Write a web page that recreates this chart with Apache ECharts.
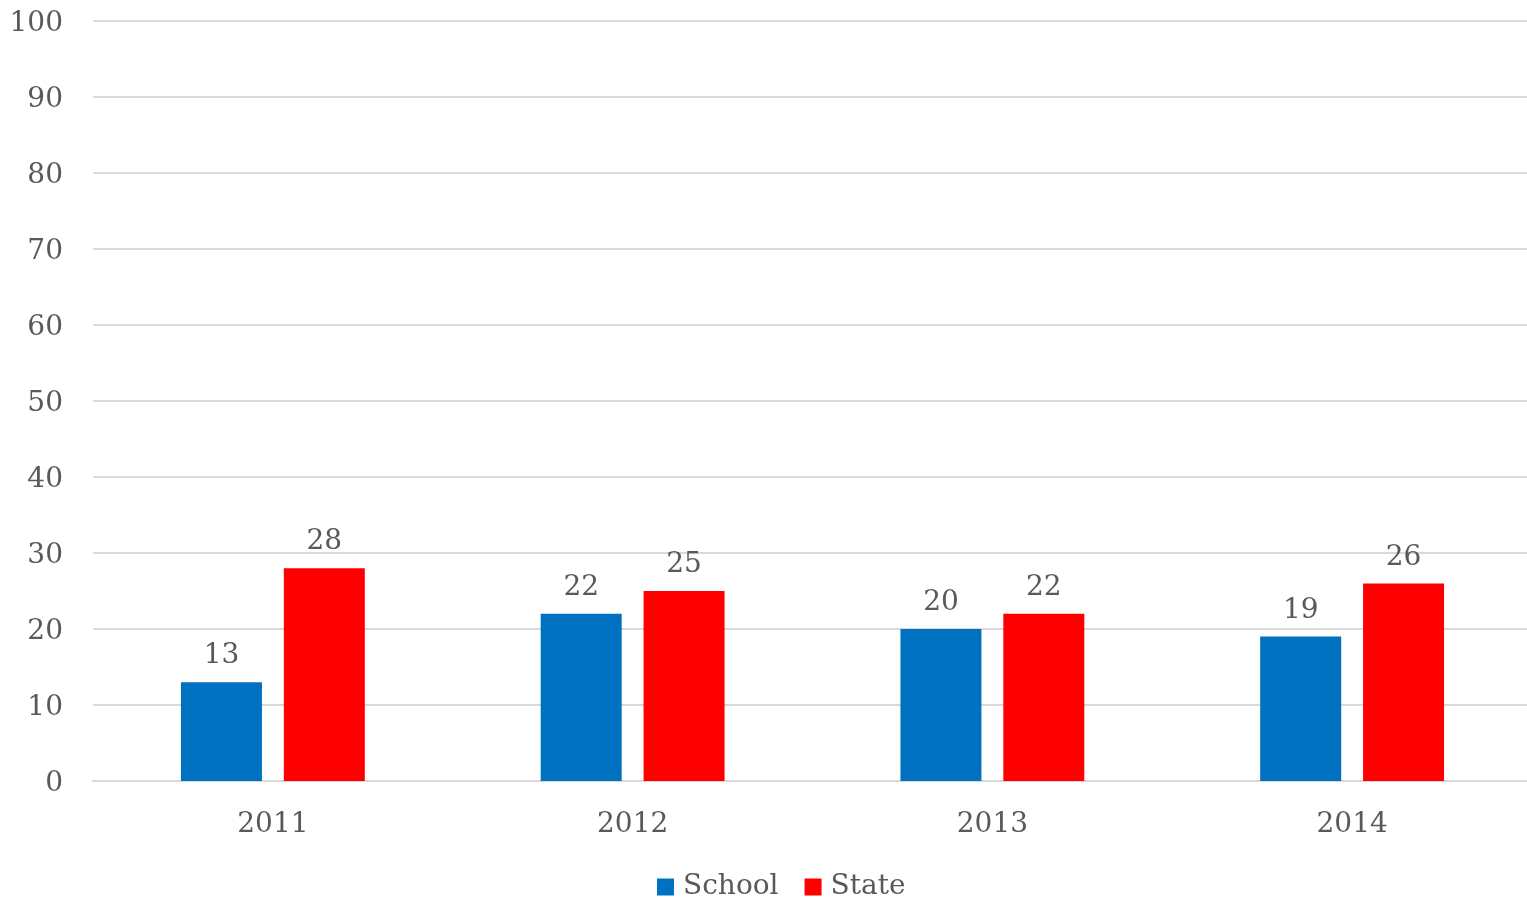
<!DOCTYPE html>
<html><head><meta charset="utf-8">
<script src="https://cdn.jsdelivr.net/npm/echarts@6/dist/echarts.min.js"></script>
<style>html,body{margin:0;padding:0;background:#fff}#c{width:1527px;height:900px}</style>
</head><body><div id="c"></div>
<script>
const categories = ['2011', '2012', '2013', '2014'];
const schoolValues = [13, 22, 20, 19];
const stateValues = [28, 25, 22, 26];
const yTicks = {min: 0, max: 100, interval: 10};

const FONT = 'DejaVu Serif';
const TXT = '#595959';
const FS = 28;
const chart = echarts.init(document.getElementById('c'));
chart.setOption({
  animation: false,
  textStyle: {fontFamily: FONT},
  grid: {left: 93, width: 1439, top: 21, bottom: 119, containLabel: false, outerBoundsMode: 'none'},
  legend: {
    bottom: -6, left: 652, itemWidth: 17, itemHeight: 17, itemGap: 26,
    icon: 'rect',
    textStyle: {fontFamily: FONT, fontSize: FS, color: TXT, padding: [0, 0, 0, 4]},
    data: ['School', 'State']
  },
  xAxis: {
    type: 'category', data: categories,
    axisLine: {lineStyle: {color: '#d9d9d9', width: 2}},
    axisTick: {show: false},
    axisLabel: {fontFamily: FONT, fontSize: FS, color: TXT, margin: 30}
  },
  yAxis: {
    type: 'value', min: yTicks.min, max: yTicks.max, interval: yTicks.interval,
    axisLine: {show: false}, axisTick: {show: false},
    splitLine: {lineStyle: {color: '#d9d9d9', width: 2}},
    axisLabel: {margin: 30, formatter: '{a|{value}}',
      rich: {a: {fontFamily: FONT, fontSize: FS, color: TXT, padding: [6, 0, 0, 0]}}}
  },
  series: [
    {name: 'School', type: 'bar', data: schoolValues, barWidth: 81, barGap: '27%',
     itemStyle: {color: '#0070C0'},
     label: {show: true, position: 'top', distance: 12, fontFamily: FONT, fontSize: FS, color: TXT}},
    {name: 'State', type: 'bar', data: stateValues, barWidth: 81, barGap: '27%',
     itemStyle: {color: '#FF0000'},
     label: {show: true, position: 'top', distance: 12, fontFamily: FONT, fontSize: FS, color: TXT}}
  ]
});
</script></body></html>
